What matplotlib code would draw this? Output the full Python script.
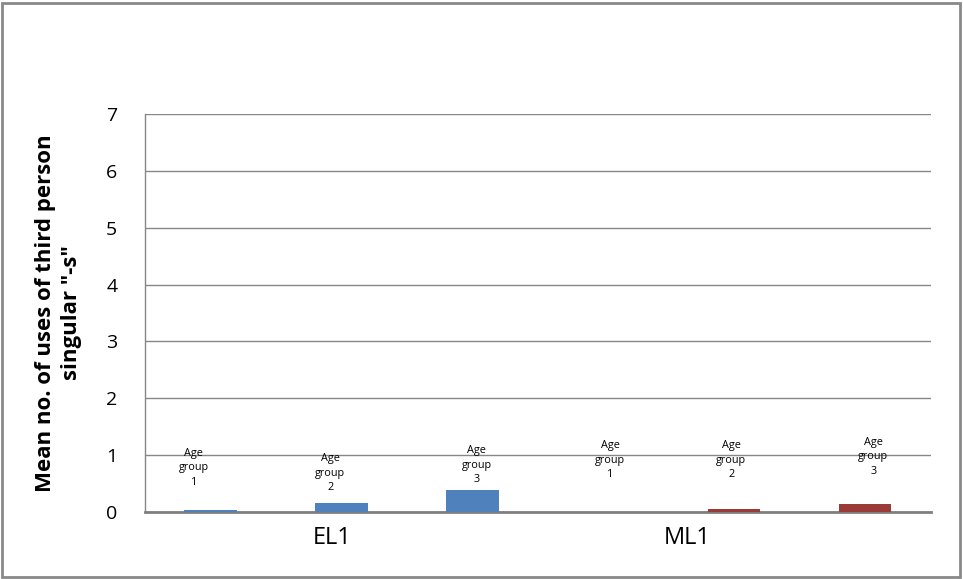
import matplotlib
matplotlib.use('Agg')
import matplotlib.pyplot as plt
from matplotlib.patches import Rectangle
import numpy as np

# mean uses of third person singular "-s", three age groups per learner group
groups = ['EL1', 'ML1']
age_groups = ['Age\ngroup\n1', 'Age\ngroup\n2', 'Age\ngroup\n3']
el1_means = [0.04, 0.15, 0.38]
ml1_means = [0.0, 0.05, 0.14]

plt.rcParams['font.family'] = ['Open Sans', 'DejaVu Sans']

fig = plt.figure(figsize=(9.63, 5.79), dpi=100)
ax = fig.add_axes([0.1506, 0.1157, 0.8157, 0.6874])

values = el1_means + ml1_means
colors = ['#4F81BD'] * 3 + ['#9B3B38'] * 3
x = np.arange(len(values))
ax.bar(x, values, width=0.4, color=colors, zorder=3)

# data labels sit a bit above the bars, nudged the way the spreadsheet placed them
label_y = [0.78, 0.68, 0.82, 0.91, 0.91, 0.97]
label_dx = [-12, -8, 3, 5, -2, 6]
for i, (xi, ly) in enumerate(zip(x, label_y)):
    ax.annotate(age_groups[i % 3], (xi, ly), xytext=(label_dx[i], 0),
                textcoords='offset points', ha='center', va='center',
                fontsize=7.8, linespacing=1.45, zorder=4)

ax.set_xlim(-0.5, 5.5)
ax.set_ylim(0, 7)
ax.set_yticks(range(0, 8))
ax.tick_params(axis='y', labelsize=14, length=0, pad=20)
ax.yaxis.grid(True, color='#878787', linewidth=1)
ax.set_axisbelow(True)

ax.set_xticks([0.93, 3.64])
ax.set_xticklabels(groups, fontsize=17)
ax.tick_params(axis='x', length=0, pad=10)

for side in ['top', 'right']:
    ax.spines[side].set_visible(False)
ax.spines['left'].set_color('#878787')
ax.spines['left'].set_linewidth(1)
ax.spines['bottom'].set_color('#7f7f7f')
ax.spines['bottom'].set_linewidth(2)

ax.set_ylabel('Mean no. of uses of third person\nsingular "-s"',
              fontsize=16, fontweight='bold', labelpad=17, linespacing=1.35)

# outer chart border
fig.patches.append(Rectangle((0.002, 0.004), 0.995, 0.991, transform=fig.transFigure,
                             fill=False, edgecolor='#898989', linewidth=2))

fig.savefig('out.png', dpi=100)
